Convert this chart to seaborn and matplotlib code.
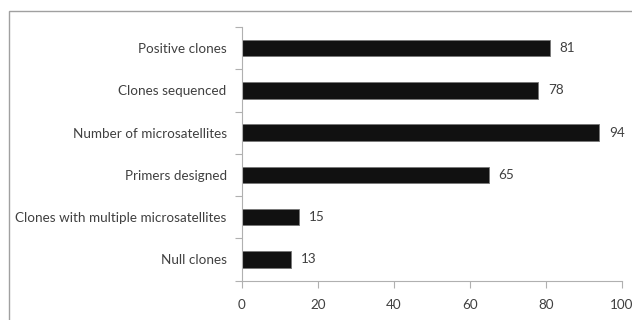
import matplotlib
matplotlib.use("Agg")
import matplotlib.pyplot as plt
import seaborn as sns
import pandas as pd
from matplotlib.patches import Rectangle
from matplotlib.ticker import MultipleLocator

categories = ["Positive clones", "Clones sequenced", "Number of microsatellites",
              "Primers designed", "Clones with multiple microsatellites", "Null clones"]
values = [81, 78, 94, 65, 15, 13]
x_ticks = [0, 20, 40, 60, 80, 100]

sns.set_theme(style="white")
plt.rcParams['font.family'] = ['Lato', 'DejaVu Sans']

df = pd.DataFrame({"category": categories, "value": values})

fig = plt.figure(figsize=(6.32, 3.2), dpi=100)
fig.patches.append(Rectangle((9/632, -0.1), 1.2, (320-11)/320 + 0.1,
                             transform=fig.transFigure, fill=False,
                             edgecolor="#a0a0a0", linewidth=1.0))
ax = fig.add_axes([242/632, (320-280.6)/320, (622-242)/632, (280.6-27)/320])

sns.barplot(data=df, x="value", y="category", orient="h", ax=ax,
            color="#111111", edgecolor="#777777", linewidth=0.6,
            width=0.39, saturation=1)

for c in ax.containers:
    ax.bar_label(c, labels=[str(v) for v in values], padding=7,
                 fontsize=9.7, color="#404040")

ax.set_xlim(0, 100)
ax.set_ylim(len(categories) - 0.5, -0.5)
ax.set_xticks(x_ticks)
ax.set_xticklabels([str(t) for t in x_ticks], fontsize=9.7, color="#404040")
ax.set_xlabel("")
ax.set_ylabel("")
ax.tick_params(axis="y", labelsize=9.7, labelcolor="#404040", length=0, pad=11)
ax.yaxis.set_minor_locator(MultipleLocator(1, offset=0.5))
ax.tick_params(axis="y", which="minor", left=True, length=5, color="#b0b0b0", width=0.8)
ax.tick_params(axis="x", bottom=True, length=5, color="#b0b0b0", width=0.8, pad=8)
for s in ["top", "right"]:
    ax.spines[s].set_visible(False)
for s in ["left", "bottom"]:
    ax.spines[s].set_color("#b0b0b0")
    ax.spines[s].set_linewidth(0.8)

fig.savefig("out.png", dpi=100)
